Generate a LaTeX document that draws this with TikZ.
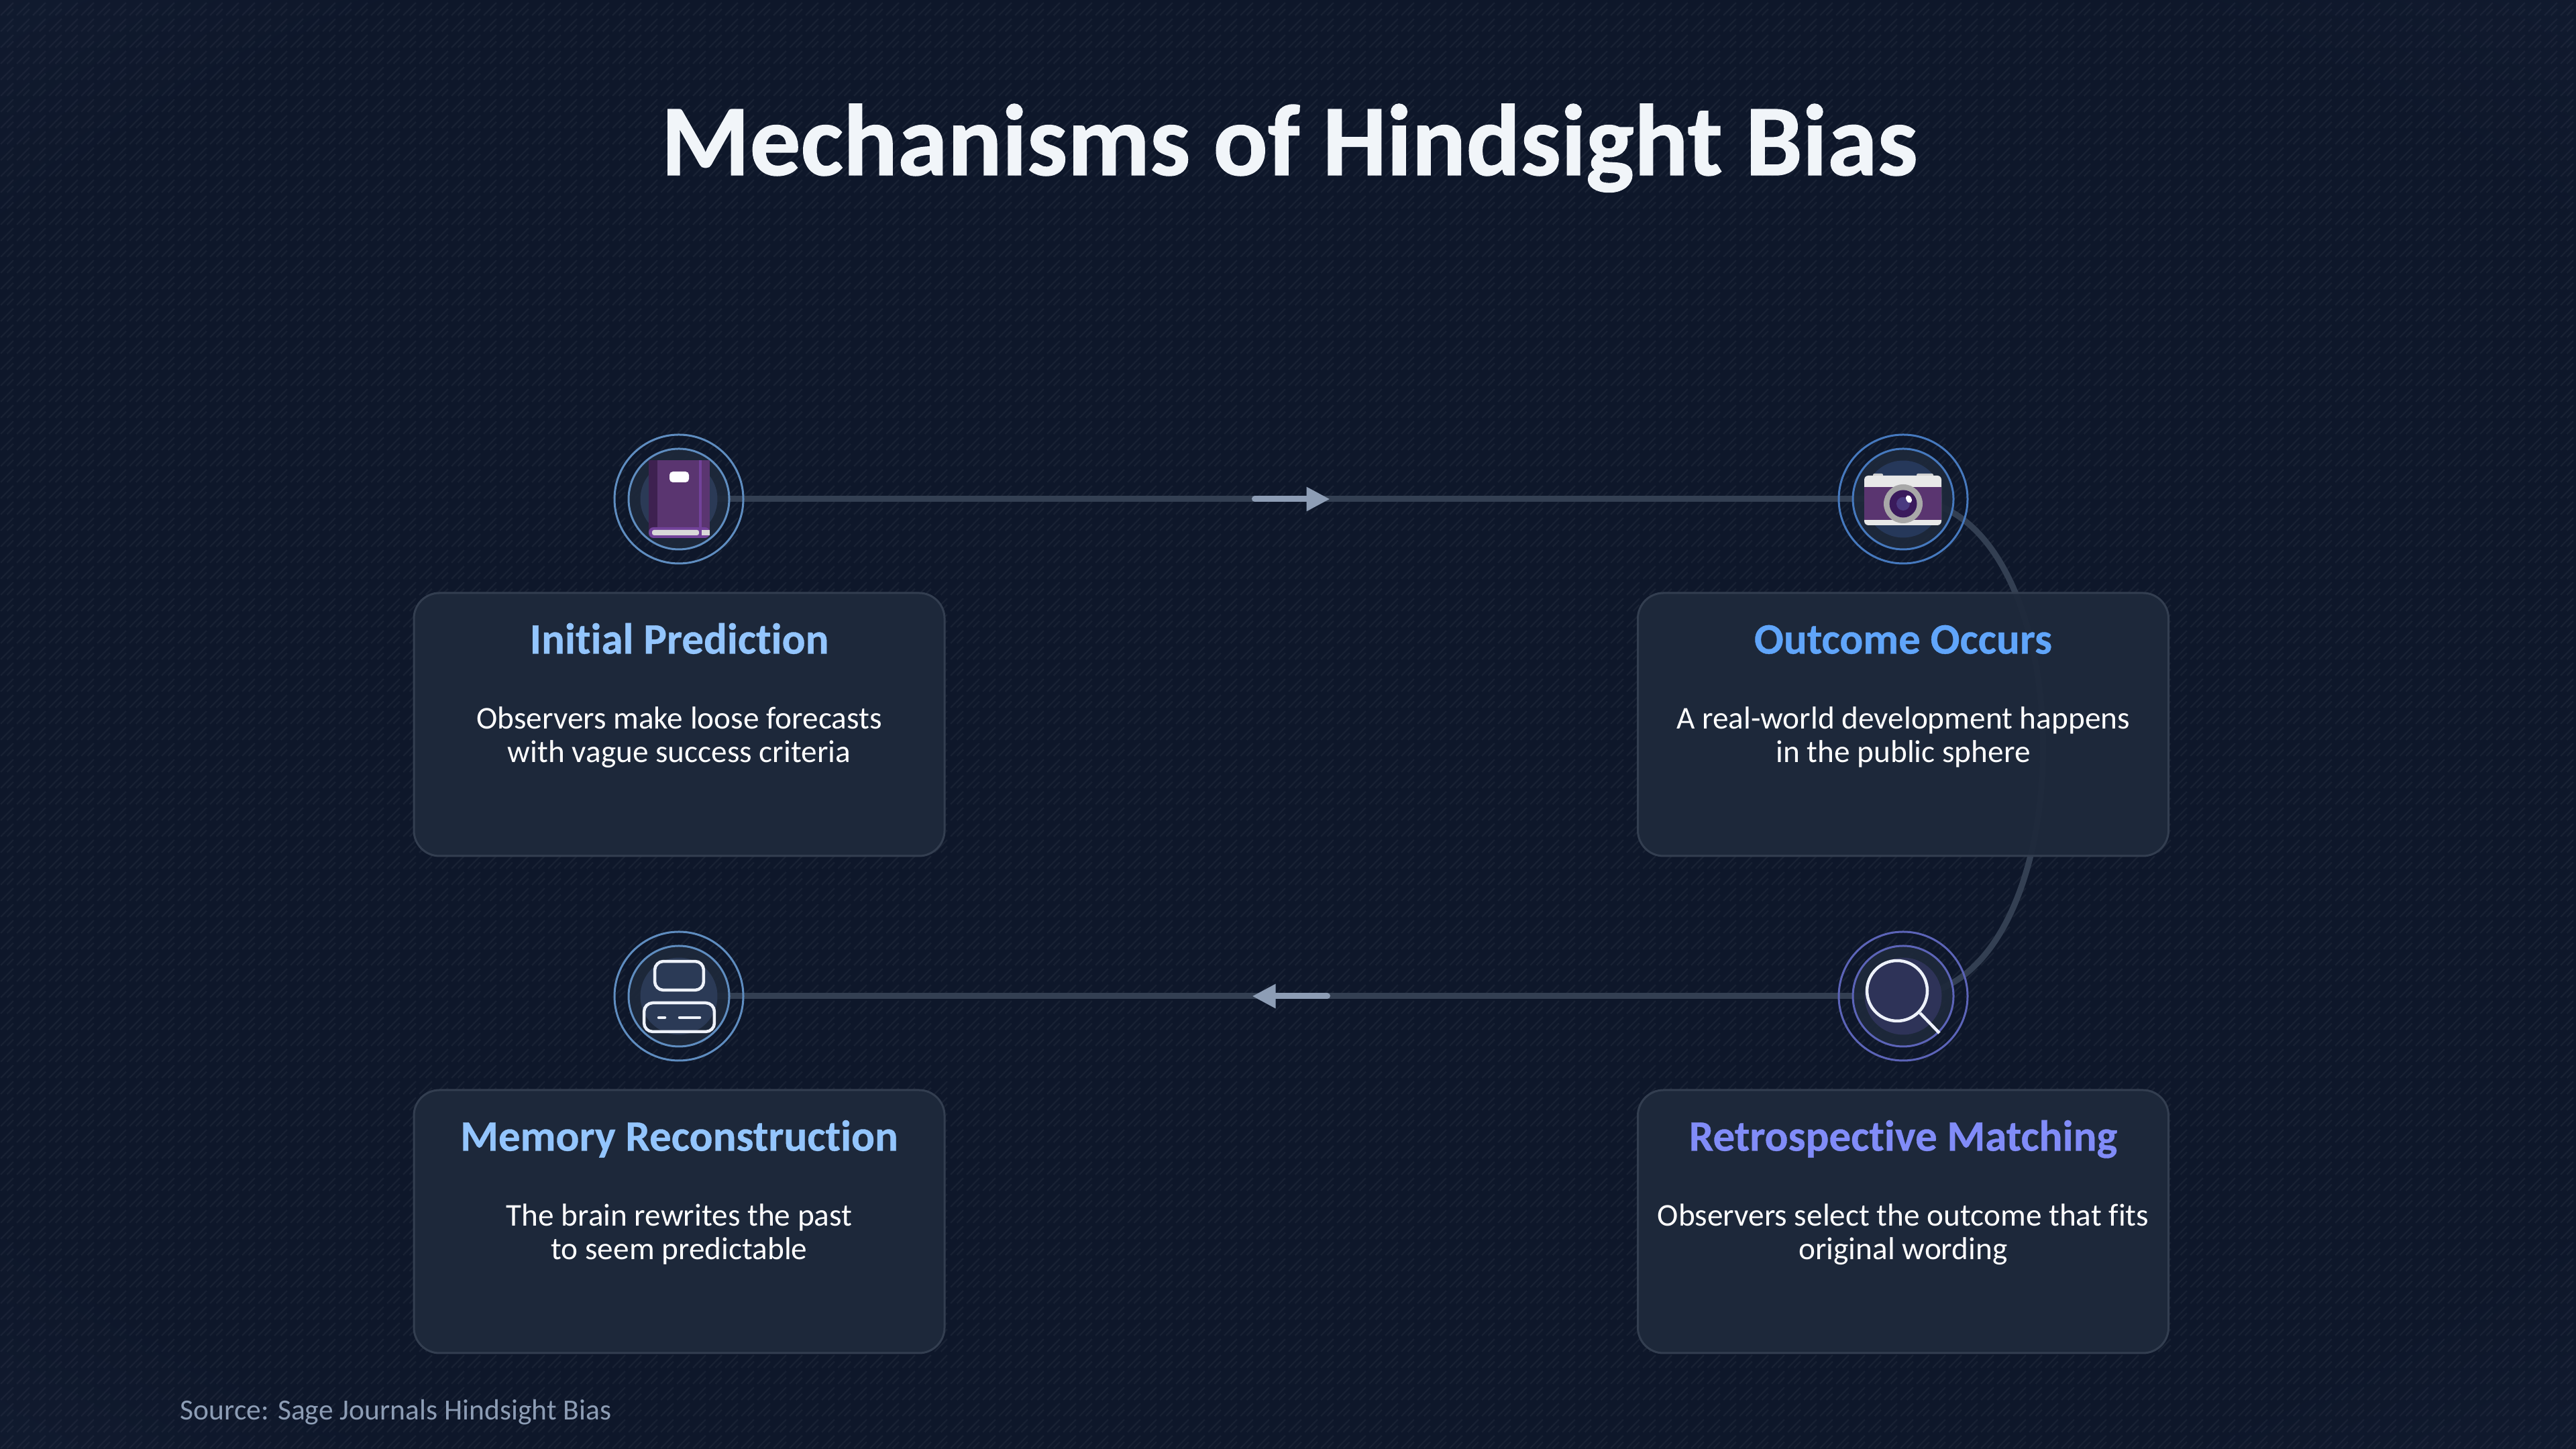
\documentclass[tikz,border=0pt]{standalone}
\usepackage{fontspec}
\setmainfont[Ligatures=NoCommon]{Carlito}
\newfontfamily\titlefont[Ligatures=NoCommon, FakeBold=0.9]{Carlito Bold}
\newfontfamily\headfont[Ligatures=NoCommon, FakeBold=0.5]{Carlito Bold}
\usetikzlibrary{arrows.meta, backgrounds, calc, patterns}

\definecolor{bgcentre}{HTML}{0E172A}
\definecolor{bgcorner}{HTML}{1E2A45}
\definecolor{cardfill}{HTML}{1E293B}
\definecolor{cardedge}{HTML}{333E50}
\definecolor{linkline}{HTML}{333F52}
\definecolor{flowtip}{HTML}{8D9DB5}
\definecolor{ringblue}{HTML}{5F8DC0}
\definecolor{ringdeep}{HTML}{4679BE}
\definecolor{ringviolet}{HTML}{5C64B8}
\definecolor{headlight}{HTML}{93C5FD}
\definecolor{headblue}{HTML}{60A5FA}
\definecolor{headviolet}{HTML}{818CF8}
\definecolor{titlewhite}{HTML}{F1F5F9}
\definecolor{discblue}{HTML}{2B3A56}
\definecolor{discdeep}{HTML}{26385A}
\definecolor{discviolet}{HTML}{2E3358}
\definecolor{bookdark}{HTML}{3E2150}
\definecolor{bookcover}{HTML}{5A3570}
\definecolor{bookband}{HTML}{72429A}
\definecolor{paper}{HTML}{D8D8D8}
\definecolor{cambody}{HTML}{E8E8E8}
\definecolor{camlens}{HTML}{A8A8A8}
\definecolor{camglass}{HTML}{3A1A5C}
\definecolor{camiris}{HTML}{4A3A80}
\definecolor{iconline}{HTML}{EEF2FA}

\pgfdeclareradialshading{bgglow}{\pgfpoint{0bp}{0bp}}{%
  color(0bp)=(bgcentre); color(30bp)=(bgcentre); color(62bp)=(bgcorner); color(71bp)=(bgcorner)}

\pgfdeclarepatternformonly{hatchtile}{\pgfqpoint{0pt}{0pt}}{\pgfqpoint{6.83pt}{6.83pt}}{\pgfqpoint{6.83pt}{6.83pt}}{%
  \pgfsetlinewidth{0.7pt}
  \pgfpathmoveto{\pgfqpoint{0.6pt}{0.6pt}}\pgfpathlineto{\pgfqpoint{6.2pt}{6.2pt}}
  \pgfpathmoveto{\pgfqpoint{3.4pt}{0.6pt}}\pgfpathlineto{\pgfqpoint{6.2pt}{3.4pt}}
  \pgfusepath{stroke}}

\newcommand{\titlesize}{\fontsize{43}{43}\titlefont}
\newcommand{\headsize}{\fontsize{18.5}{18.5}\headfont}
\newcommand{\bodysize}{\fontsize{13.45}{14.2}\selectfont}

\begin{document}
\begin{tikzpicture}[
    card/.style={draw=cardedge, line width=0.03cm, fill=cardfill, fill opacity=0.95,
      rounded corners=0.38cm, minimum width=7.91cm, minimum height=3.92cm},
    cardhead/.style={anchor=base, inner sep=0pt, font=\headsize},
    cardtext/.style={anchor=base, inner sep=0pt, align=center, font=\bodysize, text=white},
    ring/.style={circle, draw=#1, line width=0.03cm, fill=cardfill, fill opacity=0.93,
      minimum size=1.5cm, inner sep=0pt},
    halo/.style={circle, draw=#1, line width=0.03cm, minimum size=1.92cm, inner sep=0pt},
    link/.style={draw=linkline, line width=0.09cm},
    flowmark/.style={draw=flowtip, line width=0.09cm, line cap=round,
      -{Triangle[length=0.35cm, width=0.34cm]}},
    iconstroke/.style={draw=iconline, line width=0.045cm, line cap=round},
    px/.style={shift={#1}, x=0.01cm, y=0.01cm},
  ]

  % Cards
  \node[card] (predictcard) at (10.125,10.80) {};
  \node[card] (outcomecard) at (28.37,10.80) {};
  \node[card] (matchcard)   at (28.37,3.39)  {};
  \node[card] (memorycard)  at (10.125,3.39) {};

  \node[cardhead, text=headlight]  (predicthead) at ([yshift=-0.92cm]predictcard.north) {Initial Prediction};
  \node[cardhead, text=headblue]   (outcomehead) at ([yshift=-0.92cm]outcomecard.north) {Outcome Occurs};
  \node[cardhead, text=headviolet] (matchhead)   at ([yshift=-0.92cm]matchcard.north) {Retrospective Matching};
  \node[cardhead, text=headlight]  (memoryhead)  at ([yshift=-0.92cm]memorycard.north) {Memory Reconstruction};

  \node[cardtext] (predicttext) at ([yshift=-2.54cm]predictcard.north) {Observers make loose forecasts\\with vague success criteria};
  \node[cardtext] (outcometext) at ([yshift=-2.54cm]outcomecard.north) {A real-world development happens\\in the public sphere};
  \node[cardtext] (matchtext)   at ([yshift=-2.54cm]matchcard.north) {Observers select the outcome that fits\\original wording};
  \node[cardtext] (memorytext)  at ([yshift=-2.54cm]memorycard.north) {The brain rewrites the past\\to seem predictable};

  % Rings, the links go on the background layer under them
  \node[ring=ringblue]   (book)   at (10.12,14.16) {};
  \node[ring=ringdeep]   (camera) at (28.37,14.16) {};
  \node[ring=ringviolet] (lens)   at (28.37,6.75)  {};
  \node[ring=ringblue]   (memory) at (10.12,6.75)  {};

  \node[halo=ringblue]   (bookhalo)   at (book)   {};
  \node[halo=ringdeep]   (camerahalo) at (camera) {};
  \node[halo=ringviolet] (lenshalo)   at (lens)   {};
  \node[halo=ringblue]   (memoryhalo) at (memory) {};

  \begin{pgfonlayer}{background}
    \shade[shading=bgglow] (0,0) rectangle (38.4,21.6);
    \fill[pattern=hatchtile, pattern color=white, fill opacity=0.045] (0,0) rectangle (38.4,21.6);

    % Links between the icons
    \draw[link] (book.center) -- (camera.center);
    \draw[link] (camera.center) .. controls +(2.78,0) and ($(lens.center)+(2.78,0)$) .. (lens.center);
    \draw[link] (lens.center) -- (memory.center);
  \end{pgfonlayer}

  % Arrow marks half way
  \coordinate (topmid) at ($(book)!0.5!(camera)$);
  \coordinate (lowmid) at ($(lens)!0.5!(memory)$);
  \draw[flowmark] ([xshift=-0.54cm]topmid) -- ([xshift=0.58cm]topmid);
  \draw[flowmark] ([xshift=0.54cm]lowmid) -- ([xshift=-0.58cm]lowmid);

  % Book
  \begin{scope}[px={(book)}]
    \fill[discblue] (0,0) circle (57.5);
    \fill[bookcover] (-45,-50) -- (-45,58) -- (46,58) -- (46,-50) -- cycle;
    \fill[bookdark] (-45,-50) -- (-45,58) -- (-32,58) -- (-32,-50) -- cycle;
    \fill[bookband] (30,-50) rectangle (34,58);
    \fill[bookband, rounded corners=0.07cm] (-45,-58) -- (-45,-42) -- (46,-42) -- (46,-58) -- cycle;
    \fill[paper, rounded corners=0.03cm] (-40,-54) rectangle (30,-46);
    \fill[paper] (34,-54) rectangle (46,-46);
    \fill[white, rounded corners=0.05cm] (-14,25) rectangle (15,41);
  \end{scope}

  % Camera
  \begin{scope}[px={(camera)}]
    \fill[discdeep] (0,0) circle (57.5);
    \fill[cambody!90!black, rounded corners=0.02cm] (-45,32) rectangle (-30,38);
    \fill[cambody!90!black, rounded corners=0.02cm] (20,32) rectangle (45,38);
    \fill[cambody, rounded corners=0.06cm] (-58,-39) rectangle (57,35);
    \fill[bookcover] (-58,-31) rectangle (57,18);
    \fill[camlens] (0,-7) circle (29);
    \fill[camglass] (0,-7) circle (20.5);
    \fill[camiris] (0,-7) circle (10);
    \fill[white, rotate around={25:(8.5,0)}] (8.5,0) ellipse (4 and 6);
  \end{scope}

  % Magnifier
  \begin{scope}[px={(lens)}]
    \fill[discviolet] (0,0) circle (57.5);
    \draw[iconstroke] (-9,8) circle (45);
    \draw[iconstroke, line cap=butt] (25,-25) -- (54,-55);
  \end{scope}

  % Memory blocks
  \begin{scope}[px={(memory)}]
    \fill[discblue] (0,0) circle (57.5);
    \draw[iconstroke, rounded corners=0.13cm] (-36,9) rectangle (37,52);
    \draw[iconstroke, rounded corners=0.13cm] (-52,-53) rectangle (53,-10);
    \draw[iconstroke] (-30,-32) -- (-21,-32);
    \draw[iconstroke] (1,-32) -- (31,-32);
  \end{scope}

  % Title and source
  \node[anchor=base, inner sep=0pt, text=titlewhite, font=\titlesize] (title) at (19.22,18.99) {Mechanisms of Hindsight Bias};
  \node[anchor=base west, inner sep=0pt, text=flowtip, font=\fontsize{12.4}{12.4}\selectfont] (source) at (2.68,0.43) {Source: Sage Journals Hindsight Bias};
\end{tikzpicture}
\end{document}
